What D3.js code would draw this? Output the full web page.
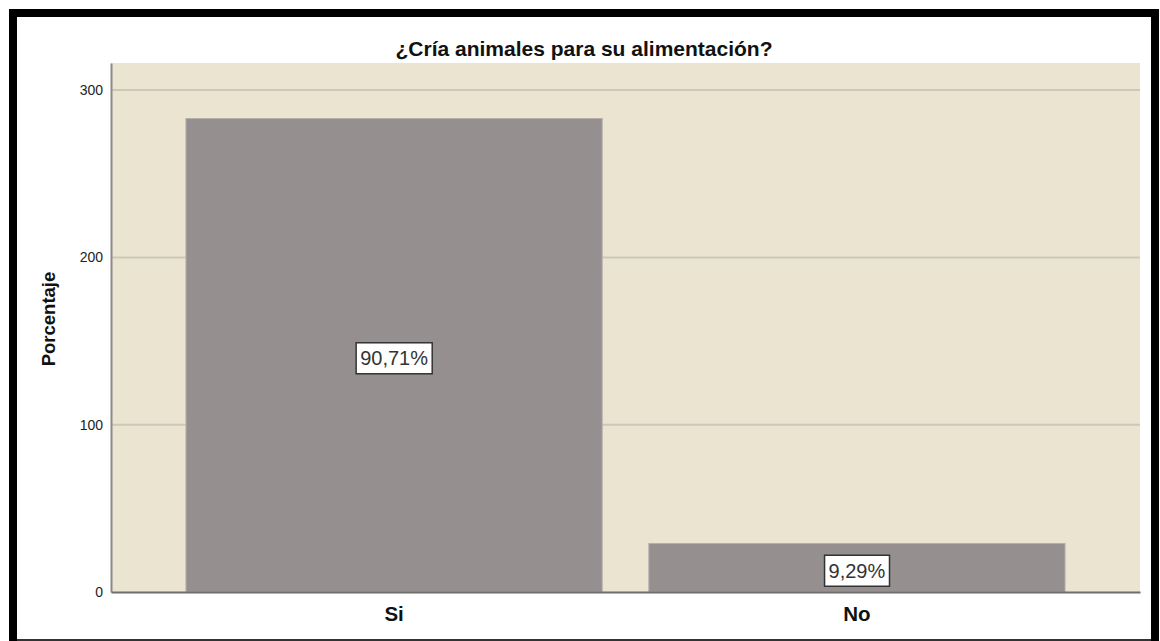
<!DOCTYPE html>
<html>
<head>
<meta charset="utf-8">
<script src="https://cdn.jsdelivr.net/npm/d3@7/dist/d3.min.js"></script>
<style>
  html, body { margin: 0; padding: 0; background: #ffffff; }
  svg { display: block; }
</style>
</head>
<body>
<svg id="chart" width="1160" height="641"></svg>
<script>
const categories = ["Si", "No"];
const counts = [283, 29];
const percentLabels = ["90,71%", "9,29%"];
const yTicks = [0, 100, 200, 300];
const chartTitle = "¿Cría animales para su alimentación?";
const yAxisTitle = "Porcentaje";

const svg = d3.select("#chart");
const W = 1160, H = 641;
const plot = { left: 111, right: 1140, top: 63, bottom: 592 };
const font = "'Liberation Sans', Arial, sans-serif";

// outer frame
svg.append("path")
  .attr("d", `M13,${H} L13,13 L1155,13 L1155,${H}`)
  .attr("fill", "none").attr("stroke", "#000").attr("stroke-width", 8);
svg.append("line")
  .attr("x1", 17).attr("x2", 1151).attr("y1", 640).attr("y2", 640)
  .attr("stroke", "#333").attr("stroke-width", 2);

const x = d3.scaleBand()
  .domain(categories)
  .range([plot.left, plot.right])
  .paddingInner(0.1008)
  .paddingOuter(0.162);

const y = d3.scaleLinear()
  .domain([0, 316.2])
  .range([plot.bottom, plot.top]);

// background
svg.append("rect")
  .attr("x", plot.left).attr("y", plot.top)
  .attr("width", plot.right - plot.left).attr("height", plot.bottom - plot.top)
  .attr("fill", "#ebe4d0");

// gridlines
svg.append("g").selectAll("line")
  .data(yTicks.filter(d => d > 0))
  .join("line")
  .attr("x1", plot.left).attr("x2", plot.right)
  .attr("y1", d => y(d)).attr("y2", d => y(d))
  .attr("stroke", "#cdc7b9").attr("stroke-width", 2);

// bars
svg.append("g").selectAll("rect")
  .data(categories)
  .join("rect")
  .attr("x", d => x(d))
  .attr("y", (d, i) => y(counts[i]))
  .attr("width", x.bandwidth())
  .attr("height", (d, i) => y(0) - y(counts[i]))
  .attr("fill", "#958f8f")
  .attr("stroke", "#b3adad").attr("stroke-width", 1);

// y axis
const yAxis = d3.axisLeft(y).tickValues(yTicks).tickSize(0).tickPadding(8).tickFormat(d3.format("d"));
const gy = svg.append("g").attr("transform", `translate(${plot.left},0)`).call(yAxis);
gy.select(".domain").attr("stroke", "#8c8a85").attr("stroke-width", 2);
gy.selectAll("text").attr("font-family", font).attr("font-size", 14).attr("fill", "#222");

// x axis
const xAxis = d3.axisBottom(x).tickSize(0).tickPadding(14);
const gx = svg.append("g").attr("transform", `translate(0,${plot.bottom})`).call(xAxis);
gx.select(".domain").attr("stroke", "#6e6d6a").attr("stroke-width", 2);
gx.selectAll("text").attr("font-family", font).attr("font-size", 20.5)
  .attr("font-weight", "bold").attr("fill", "#111");

// value labels
const lbl = svg.append("g").selectAll("g")
  .data(categories)
  .join("g")
  .attr("transform", (d, i) => `translate(${x(d) + x.bandwidth() / 2},${y(counts[i] / 2) + 3})`);
lbl.append("text")
  .attr("text-anchor", "middle").attr("dy", "0.36em")
  .attr("font-family", font).attr("font-size", 20).attr("fill", "#333")
  .text((d, i) => percentLabels[i]);
lbl.each(function () {
  const g = d3.select(this);
  const bb = g.select("text").node().getBBox();
  g.insert("rect", "text")
    .attr("x", bb.x - 4).attr("y", -15.5)
    .attr("width", bb.width + 8).attr("height", 31)
    .attr("fill", "#fff").attr("stroke", "#333").attr("stroke-width", 1.5);
});

// title
svg.append("text")
  .attr("x", 584).attr("y", 56)
  .attr("text-anchor", "middle")
  .attr("font-family", font).attr("font-size", 21).attr("font-weight", "bold").attr("fill", "#111")
  .text(chartTitle);

// y axis title
svg.append("text")
  .attr("transform", "translate(55,319) rotate(-90)")
  .attr("text-anchor", "middle")
  .attr("font-family", font).attr("font-size", 18.5).attr("font-weight", "bold").attr("fill", "#111")
  .text(yAxisTitle);
</script>
</body>
</html>
